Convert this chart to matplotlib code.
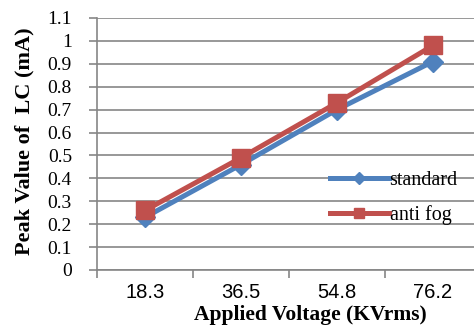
import matplotlib.pyplot as plt
import numpy as np

voltages = ['18.3', '36.5', '54.8', '76.2']
standard = [0.23, 0.46, 0.70, 0.91]
anti_fog = [0.26, 0.49, 0.73, 0.98]
yticks = [0, 0.1, 0.2, 0.3, 0.4, 0.5, 0.6, 0.7, 0.8, 0.9, 1, 1.1]
ytick_labels = ['0', '0.1', '0.2', '0.3', '0.4', '0.5', '0.6', '0.7', '0.8', '0.9', '1', '1.1']

serif = 'Liberation Serif'
sans = 'Liberation Sans'
grey = '#868686'

fig = plt.figure(figsize=(4.74, 3.29), dpi=100)
W, H = 474, 329
# axes in pixel coords: left 97, right 481, top 18, bottom 270
ax = fig.add_axes([97 / W, 1 - 270 / H, (481 - 97) / W, (270 - 18) / H])

x = np.arange(len(voltages))
ax.plot(x, standard, color='#4F81BD', lw=3.6, marker='D', ms=10, label='standard', zorder=3)
ax.plot(x, anti_fog, color='#C0504D', lw=3.6, marker='s', ms=13, label='anti fog', zorder=4)

ax.set_xlim(-0.5, 3.5)
ax.set_ylim(0, 1.1)
ax.set_yticks(yticks)
ax.set_yticklabels(ytick_labels, fontfamily=serif, fontsize=14)
ax.yaxis.grid(True, color=grey, lw=1.2)
ax.set_axisbelow(True)

ax.set_xticks(x)
ax.set_xticklabels(voltages, fontfamily=sans, fontsize=14.5)
ax.set_xticks(np.arange(-0.5, 4, 1), minor=True)
ax.tick_params(axis='x', which='major', length=0, pad=9)
ax.tick_params(axis='x', which='minor', length=6, color=grey, width=1.2)
ax.tick_params(axis='y', length=6, color=grey, width=1.2, pad=12)

for s in ['top', 'right']:
    ax.spines[s].set_visible(False)
for s in ['left', 'bottom']:
    ax.spines[s].set_color(grey)
    ax.spines[s].set_linewidth(1.2)

ax.set_ylabel('Peak Value of  LC (mA)', fontfamily=serif, fontweight='bold', fontsize=16)
ax.yaxis.set_label_coords(-0.163, 0.51)
ax.set_xlabel('Applied Voltage (KVrms)', fontfamily=serif, fontweight='bold', fontsize=15.5)
ax.xaxis.set_label_coords(0.555, -0.14)

leg = ax.legend(loc='center left', bbox_to_anchor=(0.56, 0.285), frameon=False,
                prop={'family': serif, 'size': 14.5}, handlelength=2.9,
                handletextpad=0.05, labelspacing=0.75, markerscale=0.6)

fig.savefig('out.png', dpi=100)
